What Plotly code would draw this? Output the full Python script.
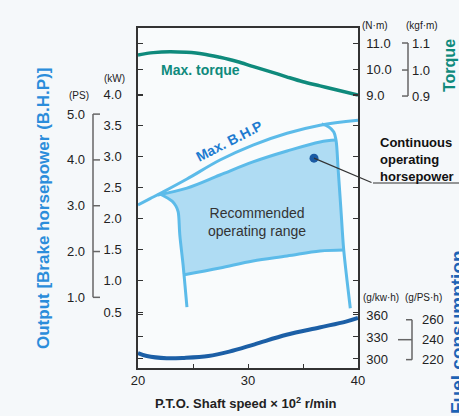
import plotly.graph_objects as go

# ---------------- data ----------------
speed_ticks = [20, 25, 30, 35, 40]
speed_labels = ["20", "", "30", "", "40"]

kw_ticks = [0.5, 1.0, 1.5, 2.0, 2.5, 3.0, 3.5, 4.0]
ps_ticks = [1.0, 2.0, 3.0, 4.0, 5.0]
PS_TO_KW = 0.7355

torque_ticks = [9.0, 10.0, 11.0]
kgf_labels = ["0.9", "1.0", "1.1"]
kgf_pos = [8.96, 9.96, 11.0]          # where the kgf·m marks sit on the N·m scale

fuel_ticks = [300, 330, 360]
fuel_ps_ticks = [220, 240, 260]
GPS_TO_GKW = 1 / 0.7355

# Max torque curve (N·m)
torque_x = [20.0, 21.4, 22.9, 24.4, 25.9, 27.45, 29.0, 30.5, 32.0, 33.5, 35.0, 36.55, 38.1, 40.0]
torque_y = [10.54, 10.63, 10.665, 10.64, 10.58, 10.45, 10.29, 10.09, 9.90, 9.70, 9.51, 9.35, 9.19, 9.0]

# Max B.H.P curve (kW)
bhp_x = [20.0, 21.1, 22.3, 24.45, 27.45, 30.45, 33.55, 36.55, 40.0]
bhp_y = [2.22, 2.32, 2.43, 2.635, 2.94, 3.18, 3.37, 3.50, 3.58]

# Continuous operating horsepower (upper edge of recommended range, kW)
cont_x = [21.8, 24.45, 27.45, 30.45, 33.55, 36.55, 38.0]
cont_y = [2.38, 2.49, 2.70, 2.91, 3.085, 3.23, 3.26]

# Left edge of recommended range
left_x = [22.0, 23.1, 23.45, 23.65, 23.8, 24.1, 24.27, 24.45]
left_y = [2.395, 2.28, 2.20, 2.11, 1.74, 1.255, 0.93, 0.58]

# Right edge of recommended range
right_x = [36.7, 37.35, 37.8, 38.0, 38.2, 38.45, 38.7, 39.0, 39.3]
right_y = [3.52, 3.47, 3.39, 3.26, 2.78, 2.14, 1.50, 1.01, 0.56]

# Lower edge of recommended range
low_x = [24.1, 27.45, 30.45, 33.55, 36.55, 38.7]
low_y = [1.094, 1.207, 1.319, 1.399, 1.48, 1.496]

# Fuel consumption curve (g/kW·h)
fuel_x = [20.0, 20.8, 22.6, 24.2, 26.4, 28.3, 30.6, 33.5, 36.5, 38.9, 40.0]
fuel_y = [308, 304, 301, 301.5, 304, 310, 320, 333, 343, 351, 356]

dot_x, dot_y = [36.0], [2.97]

# ---------------- styling ----------------
FONT = "Arial, Liberation Sans, sans-serif"
TEAL = "#0f8a7c"
LBLUE = "#5cbbe9"
FILL = "rgba(150,210,240,0.75)"
DBLUE = "#1c5fa6"
AXC = "#333333"

KW_RANGE = [-0.399, 5.06]
TQ_RANGE = [-1.5, 11.577]
FU_RANGE = [287.7, 751.4]

fig = go.Figure()

# recommended operating range fill (built from the boundary arrays)
fx = [left_x[0]] + cont_x[1:] + right_x[4:7] + low_x[::-1][1:] + left_x[::-1][3:]
fy = [left_y[0]] + cont_y[1:] + right_y[4:7] + low_y[::-1][1:] + left_y[::-1][3:]
fig.add_trace(go.Scatter(x=fx, y=fy, fill="toself", fillcolor=FILL, mode="none",
                         hoverinfo="skip", showlegend=False))

line_kw = dict(color=LBLUE, width=3, shape="spline")
for xs, ys in [(bhp_x, bhp_y), (cont_x, cont_y), (left_x, left_y),
               (right_x, right_y), (low_x, low_y)]:
    fig.add_trace(go.Scatter(x=xs, y=ys, mode="lines", line=line_kw,
                             showlegend=False, hoverinfo="skip"))

fig.add_trace(go.Scatter(x=torque_x, y=torque_y, yaxis="y2", mode="lines",
                         line=dict(color=TEAL, width=3.5, shape="spline"),
                         showlegend=False))
fig.add_trace(go.Scatter(x=fuel_x, y=fuel_y, yaxis="y3", mode="lines",
                         line=dict(color=DBLUE, width=4, shape="spline"),
                         showlegend=False))
fig.add_trace(go.Scatter(x=dot_x, y=dot_y, mode="markers",
                         marker=dict(color="#1b5aa3", size=9), showlegend=False))

axis_common = dict(showgrid=False, zeroline=False, showline=True, linecolor=AXC,
                   linewidth=1.5, ticks="inside", ticklen=5, tickcolor=AXC,
                   tickfont=dict(family=FONT, size=13, color="#222"))

fig.update_layout(
    width=459, height=416,
    margin=dict(l=138, r=101, t=28, b=48),
    paper_bgcolor="#f5f8fa", plot_bgcolor="#f9fbfc",
    font=dict(family=FONT),
    xaxis=dict(range=[20, 40], tickvals=speed_ticks, ticktext=speed_labels,
               mirror=True, **{**axis_common, "ticklen": 4}),
    yaxis=dict(range=KW_RANGE, tickvals=kw_ticks,
               ticktext=[f"{v:.1f}" for v in kw_ticks], mirror="ticks",
               ticklabelstandoff=12, **axis_common),
    yaxis2=dict(range=TQ_RANGE, tickvals=torque_ticks,
                ticktext=[f"{v:.1f}" for v in torque_ticks], overlaying="y",
                side="right", anchor="x", mirror="ticks", ticklabelstandoff=4,
                **axis_common),
    yaxis3=dict(range=FU_RANGE, tickvals=fuel_ticks,
                ticktext=[str(v) for v in fuel_ticks], overlaying="y",
                side="right", anchor="x", mirror="ticks", ticklabelstandoff=4,
                **axis_common),
)

def px2paper_x(px):
    return (px - 138) / 220.0

def px2paper_y(py):
    return (368 - py) / 340.0

ann = []
shapes = []
GRAY = "#666"

def text(x, y, t, xref="paper", yref="paper", xanchor="center", **kw):
    d = dict(x=x, y=y, xref=xref, yref=yref, text=t, showarrow=False,
             xanchor=xanchor, yanchor="middle")
    d.update(kw)
    ann.append(d)

# PS bracket
for v in ps_ticks:
    text(px2paper_x(87), v * PS_TO_KW, f"{v:.1f}", yref="y", xanchor="right",
         font=dict(size=13, color="#222"))
    shapes.append(dict(type="line", xref="paper", yref="y", x0=px2paper_x(93),
                       x1=px2paper_x(100), y0=v * PS_TO_KW, y1=v * PS_TO_KW,
                       line=dict(color=GRAY, width=1.5)))
shapes.append(dict(type="line", xref="paper", yref="y", x0=px2paper_x(93),
                   x1=px2paper_x(93), y0=ps_ticks[0] * PS_TO_KW,
                   y1=ps_ticks[-1] * PS_TO_KW, line=dict(color=GRAY, width=1.5)))

# kgf·m bracket
for lab, p in zip(kgf_labels, kgf_pos):
    text(px2paper_x(410), p, lab, yref="y2", xanchor="left",
         font=dict(size=13, color="#222"))
    shapes.append(dict(type="line", xref="paper", yref="y2", x0=px2paper_x(402),
                       x1=px2paper_x(408), y0=p, y1=p, line=dict(color=GRAY, width=1.5)))
shapes.append(dict(type="line", xref="paper", yref="y2", x0=px2paper_x(408),
                   x1=px2paper_x(408), y0=kgf_pos[0], y1=kgf_pos[-1],
                   line=dict(color=GRAY, width=1.5)))

# g/PS·h bracket
for v in fuel_ps_ticks:
    yv = v * GPS_TO_GKW
    text(px2paper_x(420), yv, str(v), yref="y3", xanchor="left",
         font=dict(size=13, color="#222"))
    x0 = 398 if v == fuel_ps_ticks[1] else 406
    shapes.append(dict(type="line", xref="paper", yref="y3", x0=px2paper_x(x0),
                       x1=px2paper_x(412), y0=yv, y1=yv, line=dict(color=GRAY, width=1.5)))
shapes.append(dict(type="line", xref="paper", yref="y3", x0=px2paper_x(412),
                   x1=px2paper_x(412), y0=fuel_ps_ticks[0] * GPS_TO_GKW,
                   y1=fuel_ps_ticks[-1] * GPS_TO_GKW, line=dict(color=GRAY, width=1.5)))

# unit labels
for txt, px, py in [("(PS)", 79, 96), ("(kW)", 114, 78), ("(N·m)", 375, 25),
                    ("(kgf·m)", 422, 25), ("(g/kw·h)", 381, 297), ("(g/PS·h)", 423, 297)]:
    text(px2paper_x(px), px2paper_y(py), txt, font=dict(size=10, color="#222"))

# axis titles
text(px2paper_x(43), px2paper_y(209), "<b>Output [Brake horsepower (B.H.P)]</b>",
     textangle=-90, font=dict(size=17, color="#2b8ddb"))
text(px2paper_x(449), px2paper_y(66), "<b>Torque</b>", textangle=-90,
     font=dict(size=16, color=TEAL))
text(px2paper_x(457), px2paper_y(332), "<b>Fuel consumption</b>", textangle=-90,
     font=dict(size=19, color="#1d63b5"))
text(px2paper_x(246), px2paper_y(403), "<b>P.T.O. Shaft speed × 10<sup>2</sup> r/min</b>",
     font=dict(size=13, color="#222"))

# in-plot labels
text(25.7, 9.96, "<b>Max. torque</b>", xref="x", yref="y2",
     font=dict(size=14, color=TEAL))
text(28.3, 3.245, "<b>Max. B.H.P</b>", xref="x", yref="y", textangle=-27,
     font=dict(size=14, color="#1e7bd0"))
text(30.8, 1.945, "Recommended<br>operating range", xref="x", yref="y",
     font=dict(size=14, color="#333"))
text(px2paper_x(378), px2paper_y(159), "<b>Continuous<br>operating<br>horsepower</b>",
     xanchor="left", align="left", font=dict(size=13, color="#111"))

# leader line from dot
ann.append(dict(x=dot_x[0], y=dot_y[0], xref="x", yref="y", text="", showarrow=True,
                ax=59, ay=25, arrowhead=0, arrowwidth=1.2, arrowcolor="#333",
                standoff=0))
shapes.append(dict(type="line", xref="paper", yref="paper", x0=px2paper_x(373),
                   x1=px2paper_x(459), y0=px2paper_y(183), y1=px2paper_y(183),
                   line=dict(color="#333", width=1.2)))

fig.update_layout(annotations=ann, shapes=shapes)
fig.write_html("out.html")
